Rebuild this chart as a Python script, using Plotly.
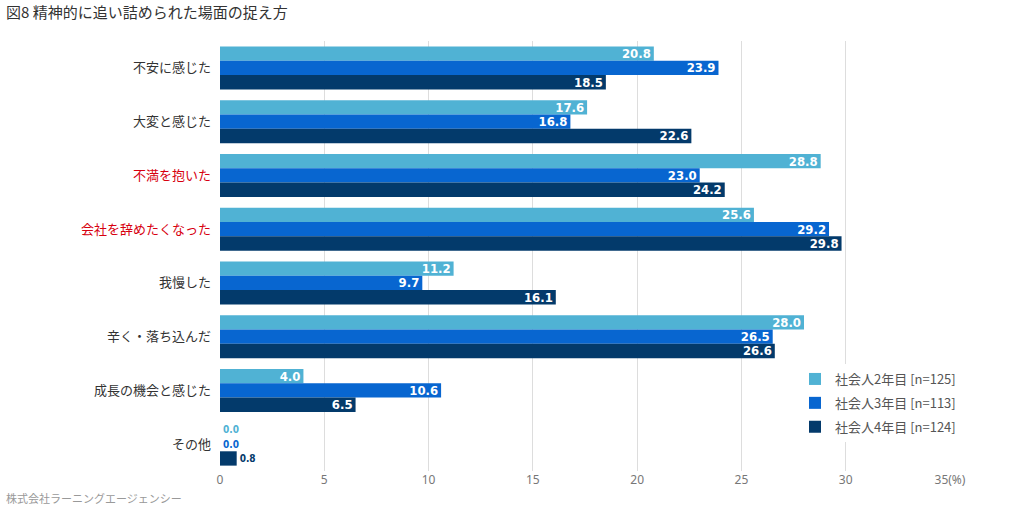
import plotly.graph_objects as go

categories = ["不安に感じた", "大変と感じた", "不満を抱いた", "会社を辞めたくなった",
              "我慢した", "辛く・落ち込んだ", "成長の機会と感じた", "その他"]
highlight = ["不満を抱いた", "会社を辞めたくなった"]
series_names = ["社会人2年目 [n=125]", "社会人3年目 [n=113]", "社会人4年目 [n=124]"]
year2 = [20.8, 17.6, 28.8, 25.6, 11.2, 28.0, 4.0, 0.0]
year3 = [23.9, 16.8, 23.0, 29.2, 9.7, 26.5, 10.6, 0.0]
year4 = [18.5, 22.6, 24.2, 29.8, 16.1, 26.6, 6.5, 0.8]
colors = ["#50B2D4", "#0866D0", "#033A6B"]
x_ticks = [0, 5, 10, 15, 20, 25, 30, 35]
x_ticktext = ["0", "5", "10", "15", "20", "25", "30", "35(%)"]

label_font = "DejaVu Sans Condensed, Liberation Sans Narrow, Roboto, sans-serif"
jp_font = "Noto Sans CJK JP, sans-serif"

fig = go.Figure()
for name, vals, col in zip(series_names, [year2, year3, year4], colors):
    positions = ["outside" if v < 2 else "inside" for v in vals]
    fig.add_trace(go.Bar(
        y=categories, x=vals, name=name, orientation="h", legendgroup=name,
        marker=dict(color=col, line=dict(width=0)),
        texttemplate="%{x:.1f}", textposition=positions,
        insidetextanchor="end", textangle=0, constraintext="none",
        insidetextfont=dict(color="white", size=13, family=label_font, weight="bold"),
        outsidetextfont=dict(color=col, size=10, family=label_font, weight="bold"),
        cliponaxis=False,
    ))

ticktext = [f"<span style='color:#D7000F'>{c}</span>" if c in highlight else c for c in categories]

fig.update_layout(
    width=1020, height=510,
    margin=dict(l=220, r=70, t=41, b=39),
    paper_bgcolor="white", plot_bgcolor="white",
    barmode="group", bargap=0.2, bargroupgap=0,
    font=dict(family=jp_font, color="#333333", size=13),
    showlegend=True,
    legend=dict(x=(795 - 220) / 730, y=(471 - 364) / 430, xanchor="left", yanchor="top",
                bgcolor="white", traceorder="grouped", tracegroupgap=4,
                font=dict(size=13, color="#555555", family=jp_font),
                itemwidth=30),
    xaxis=dict(range=[0, 35], tickvals=x_ticks, ticktext=x_ticktext,
               showgrid=True, gridcolor="#DDDDDD", gridwidth=1,
               zeroline=False, showline=False, ticks="", automargin=False,
               tickfont=dict(size=12, color="#777777", family="Noto Sans, sans-serif")),
    yaxis=dict(categoryorder="array", categoryarray=categories, autorange="reversed",
               tickmode="array", tickvals=categories, ticktext=ticktext,
               showgrid=False, zeroline=False, showline=False, ticks="",
               ticklabelstandoff=8, automargin=False,
               tickfont=dict(size=13, color="#333333", family=jp_font)),
    annotations=[
        dict(text="図8 精神的に追い詰められた場面の捉え方", xref="paper", yref="paper",
             x=-216/730, y=1 + 29/430, xanchor="left", yanchor="middle", showarrow=False,
             font=dict(size=15, color="#333333", family=jp_font)),
        dict(text="株式会社ラーニングエージェンシー", xref="paper", yref="paper",
             x=-216/730, y=-27/430, xanchor="left", yanchor="middle", showarrow=False,
             font=dict(size=11, color="#999999", family=jp_font)),
    ],
)

fig.write_html("out.html", config={"displayModeBar": False},
               post_script="document.body.style.margin='0';")
